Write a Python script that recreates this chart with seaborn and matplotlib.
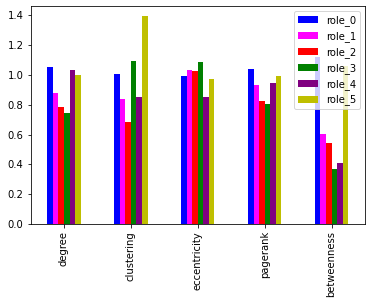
import matplotlib
matplotlib.use("Agg")
import matplotlib.pyplot as plt
import seaborn as sns
import pandas as pd

features = ["degree", "clustering", "eccentricity", "pagerank", "betweenness"]
roles = ["role_0", "role_1", "role_2", "role_3", "role_4", "role_5"]
role_0 = [1.056, 1.009, 0.996, 1.043, 1.123]
role_1 = [0.881, 0.841, 1.036, 0.935, 0.606]
role_2 = [0.787, 0.687, 1.029, 0.828, 0.546]
role_3 = [0.747, 1.096, 1.085, 0.808, 0.371]
role_4 = [1.036, 0.855, 0.855, 0.949, 0.412]
role_5 = [1.002, 1.394, 0.975, 0.996, 1.063]
colors = ["blue", "magenta", "red", "green", "purple", "y"]

series = [role_0, role_1, role_2, role_3, role_4, role_5]
rows = []
for r, vals in zip(roles, series):
    for f, v in zip(features, vals):
        rows.append({"feature": f, "role": r, "value": v})
df = pd.DataFrame(rows)

fig = plt.figure(figsize=(372 / 72, 304 / 72), dpi=72)
ax = fig.add_axes([30.5 / 372, (304 - 224) / 304, 334.5 / 372, (224 - 6) / 304])
sns.barplot(data=df, x="feature", y="value", hue="role", order=features,
            hue_order=roles, palette=colors, width=0.5, gap=0, ax=ax,
            saturation=1, errorbar=None, linewidth=0)
ax.set_xlabel("")
ax.set_ylabel("")
ax.set_xlim(-0.5, 4.5)
ax.set_yticks([0.0, 0.2, 0.4, 0.6, 0.8, 1.0, 1.2, 1.4])
ax.tick_params(axis="x", labelrotation=90)
ax.tick_params(labelsize=10)
ax.legend(loc="upper right", fontsize=10, title=None)
fig.savefig("out.png", dpi=72)
